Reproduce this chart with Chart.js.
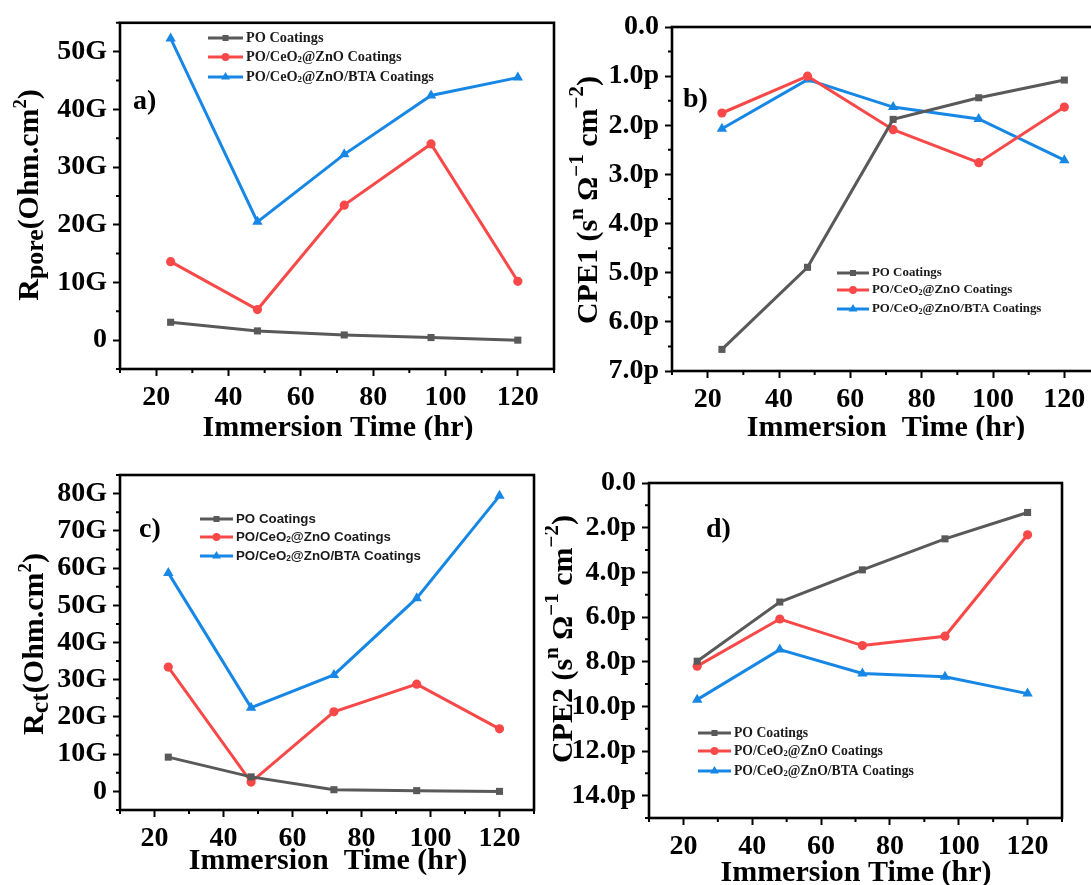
<!DOCTYPE html>
<html lang="en">
<head>
<meta charset="UTF-8" />
<title>Coating EIS parameters vs immersion time</title>
<script src="https://cdn.jsdelivr.net/npm/chart.js"></script>
<style>
  body {
    margin: 0;
    background: #fff;
    width: 1091px;
    height: 885px;
    overflow: hidden;
    position: relative;
  }
  .panel { position: absolute; }
</style>
</head>
<body>
<div class="panel" style="left:0;top:0;width:560px;height:440px"><canvas id="chartA"></canvas></div>
<div class="panel" style="left:560px;top:0;width:560px;height:440px"><canvas id="chartB"></canvas></div>
<div class="panel" style="left:0;top:440px;width:545px;height:445px"><canvas id="chartC"></canvas></div>
<div class="panel" style="left:545px;top:440px;width:546px;height:445px"><canvas id="chartD"></canvas></div>

<script>
// immersion times (hr)
const hours = [24, 48, 72, 96, 120];

// a) pore resistance, G ohm.cm2
const rporePO = [3.1, 1.6, 0.9, 0.45, 0.0];
const rporeCeZn = [13.6, 5.3, 23.4, 34.0, 10.2];
const rporeBTA = [52.3, 20.5, 32.2, 42.4, 45.5];

// b) CPE1, p units
const cpe1PO = [6.56, 4.89, 1.88, 1.44, 1.08];
const cpe1CeZn = [1.75, 1.0, 2.09, 2.76, 1.63];
const cpe1BTA = [2.07, 1.07, 1.63, 1.87, 2.71];

// c) charge transfer resistance, G ohm.cm2
const rctPO = [9.2, 3.9, 0.45, 0.2, 0.0];
const rctCeZn = [33.4, 2.5, 21.4, 28.8, 16.8];
const rctBTA = [58.7, 22.5, 31.3, 51.9, 79.4];

// d) CPE2, p units
const cpe2PO = [7.98, 5.33, 3.89, 2.5, 1.32];
const cpe2CeZn = [8.2, 6.09, 7.28, 6.86, 2.32];
const cpe2BTA = [9.7, 7.46, 8.53, 8.68, 9.43];

// tick values
const xMajor = [20, 40, 60, 80, 100, 120];
const xMinor = [10, 30, 50, 70, 90, 110, 130];
const rporeMajor = [0, 10, 20, 30, 40, 50];
const rporeMinor = [-5, 5, 15, 25, 35, 45, 55];
const cpe1Major = [0, 1, 2, 3, 4, 5, 6, 7];
const cpe1Minor = [0.5, 1.5, 2.5, 3.5, 4.5, 5.5, 6.5];
const rctMajor = [0, 10, 20, 30, 40, 50, 60, 70, 80];
const rctMinor = [-5, 5, 15, 25, 35, 45, 55, 65, 75, 85];
const cpe2Major = [0, 2, 4, 6, 8, 10, 12, 14];
const cpe2Minor = [1, 3, 5, 7, 9, 11, 13, 15];

const seriesNames = [
  [["PO Coatings"]],
  [["PO/CeO"], ["2", 0.22, 0.62], ["@ZnO Coatings"]],
  [["PO/CeO"], ["2", 0.22, 0.62], ["@ZnO/BTA Coatings"]],
];
const seriesColors = ["#595959", "#f84848", "#1787e6"];
const seriesMarkers = ["rect", "circle", "triangle"];
const markerRadius = [5, 4.6, 6];

const SERIF = '"Liberation Serif", "Times New Roman", serif';
const SANS = '"Liberation Sans", Arial, sans-serif';

// text with sub/superscript parts: [text, shift(em), scale]
function drawRich(ctx, parts, x, y, size, family, center) {
  let w = 0;
  parts.forEach((p) => {
    ctx.font = "bold " + size * (p[2] || 1) + "px " + family;
    w += ctx.measureText(p[0]).width;
  });
  let cx = center ? x - w / 2 : x;
  ctx.textAlign = "left";
  ctx.textBaseline = "middle";
  parts.forEach((p) => {
    ctx.font = "bold " + size * (p[2] || 1) + "px " + family;
    ctx.fillText(p[0], cx, y + (p[1] || 0) * size);
    cx += ctx.measureText(p[0]).width;
  });
}

function drawMarker(ctx, style, x, y, r) {
  ctx.beginPath();
  if (style === "rect") {
    const s = r * Math.SQRT1_2;
    ctx.rect(x - s, y - s, 2 * s, 2 * s);
  } else if (style === "circle") {
    ctx.arc(x, y, r, 0, Math.PI * 2);
  } else {
    const h = r * 1.5;
    ctx.moveTo(x, y - r);
    ctx.lineTo(x + h / Math.sqrt(3), y + r / 2);
    ctx.lineTo(x - h / Math.sqrt(3), y + r / 2);
    ctx.closePath();
  }
  ctx.fill();
}

const panelDecor = {
  id: "panelDecor",
  afterDraw(chart, args, o) {
    const { ctx, chartArea: a, scales } = chart;
    ctx.save();
    ctx.fillStyle = "#000";
    ctx.strokeStyle = "#000";

    // minor ticks
    ctx.lineWidth = 2;
    ctx.beginPath();
    o.xMinor.forEach((v) => {
      const px = scales.x.getPixelForValue(v);
      ctx.moveTo(px, a.bottom);
      ctx.lineTo(px, a.bottom + 4);
    });
    o.yMinor.forEach((v) => {
      const py = scales.y.getPixelForValue(v);
      ctx.moveTo(a.left, py);
      ctx.lineTo(a.left - 4, py);
    });
    ctx.stroke();

    // frame
    ctx.lineWidth = 2.6;
    ctx.strokeRect(a.left, a.top, a.right - a.left, a.bottom - a.top);

    // axis titles
    drawRich(ctx, o.xTitle, o.xTitleAt[0] - o.box[0], o.xTitleAt[1] - o.box[1], 30, SERIF, true);
    ctx.save();
    ctx.translate(o.yTitleAt[0] - o.box[0], o.yTitleAt[1] - o.box[1]);
    ctx.rotate(-Math.PI / 2);
    drawRich(ctx, o.yTitle, 0, 0, 30, SERIF, true);
    ctx.restore();

    // panel letter
    drawRich(ctx, [[o.letter]], o.letterAt[0] - o.box[0], o.letterAt[1] - o.box[1], 28, SERIF, false);

    // legend
    const L = o.legend;
    chart.data.datasets.forEach((ds, i) => {
      const y = L.ys[i] - o.box[1];
      const x0 = L.x0 - o.box[0];
      const x1 = L.x1 - o.box[0];
      ctx.strokeStyle = ds.borderColor;
      ctx.fillStyle = ds.borderColor;
      ctx.lineWidth = 3;
      ctx.beginPath();
      ctx.moveTo(x0, y);
      ctx.lineTo(x1, y);
      ctx.stroke();
      drawMarker(ctx, seriesMarkers[i], (x0 + x1) / 2, y, markerRadius[i] * 0.85);
      ctx.fillStyle = "#1a1a1a";
      drawRich(ctx, seriesNames[i], x1 + 3, y, L.size, L.family, false);
    });
    ctx.restore();
  },
};

function makePanel(canvasId, p) {
  const datasets = p.values.map((vals, i) => ({
    label: seriesNames[i].map((s) => s[0]).join(""),
    data: hours.map((h, j) => ({ x: h, y: vals[j] })),
    borderColor: seriesColors[i],
    backgroundColor: seriesColors[i],
    pointBackgroundColor: seriesColors[i],
    pointBorderColor: seriesColors[i],
    pointBorderWidth: 0,
    pointStyle: seriesMarkers[i],
    pointRadius: markerRadius[i],
    borderWidth: 3,
    tension: 0,
    fill: false,
    clip: false,
  }));
  const tickFont = { family: SERIF, size: 28, weight: "bold" };
  const grid = { drawOnChartArea: false, tickLength: 7, tickWidth: 2, tickColor: "#000" };

  new Chart(document.getElementById(canvasId), {
    type: "line",
    data: { datasets },
    options: {
      animation: false,
      responsive: true,
      maintainAspectRatio: false,
      layout: { padding: { left: 0, top: p.area.top - p.box[1], right: p.box[0] + p.box[2] - p.area.right, bottom: 0 } },
      scales: {
        x: {
          type: "linear",
          min: 10,
          max: 130,
          afterBuildTicks: (s) => { s.ticks = xMajor.map((v) => ({ value: v })); },
          afterFit: (s) => { s.height = p.box[1] + p.box[3] - p.area.bottom; },
          grid: grid,
          border: { display: false },
          ticks: { font: tickFont, color: "#000", padding: 5, maxRotation: 0, autoSkip: false },
        },
        y: {
          type: "linear",
          min: p.yMin,
          max: p.yMax,
          reverse: !!p.reverse,
          afterBuildTicks: (s) => { s.ticks = p.yMajor.map((v) => ({ value: v })); },
          afterFit: (s) => { s.width = p.area.left - p.box[0]; },
          grid: grid,
          border: { display: false },
          ticks: { font: tickFont, color: "#000", padding: 6, autoSkip: false, callback: p.yLabel },
        },
      },
      plugins: {
        legend: { display: false },
        tooltip: { enabled: false },
        panelDecor: {
          box: p.box,
          xMinor: xMinor,
          yMinor: p.yMinor,
          xTitle: p.xTitle,
          xTitleAt: p.xTitleAt,
          yTitle: p.yTitle,
          yTitleAt: p.yTitleAt,
          letter: p.letter,
          letterAt: p.letterAt,
          legend: p.legend,
        },
      },
    },
    plugins: [panelDecor],
  });
}

const gLabel = (v) => (v === 0 ? "0" : v + "G");
const pLabel = (v) => (v === 0 ? "0.0" : v.toFixed(1) + "p");

makePanel("chartA", {
  box: [0, 0, 560, 440],
  area: { left: 120, top: 17, right: 556, bottom: 369 },
  values: [rporePO, rporeCeZn, rporeBTA],
  yMin: -5, yMax: 55, yMajor: rporeMajor, yMinor: rporeMinor, yLabel: gLabel,
  xTitle: [["Immersion Time (hr)"]], xTitleAt: [338, 428],
  yTitle: [["R"], ["pore", 0.2, 0.86], ["(Ohm.cm"], ["2", -0.3, 0.62], [")"]], yTitleAt: [30, 195],
  letter: "a)", letterAt: [133, 102],
  legend: { x0: 208, x1: 243, ys: [38, 57, 77], size: 14.3, family: SERIF },
});

makePanel("chartB", {
  box: [560, 0, 560, 440],
  area: { left: 672, top: 27, right: 1100, bottom: 371 },
  values: [cpe1PO, cpe1CeZn, cpe1BTA],
  yMin: 0, yMax: 7, reverse: true, yMajor: cpe1Major, yMinor: cpe1Minor, yLabel: pLabel,
  xTitle: [["Immersion  Time (hr)"]], xTitleAt: [886, 428],
  yTitle: [["CPE1 (s"], ["n", -0.38, 0.7], [" \u03a9"], ["\u22121", -0.38, 0.7], [" cm"], ["\u22122", -0.38, 0.7], [")"]],
  yTitleAt: [589, 200],
  letter: "b)", letterAt: [683, 100],
  legend: { x0: 837, x1: 869, ys: [273, 290, 309], size: 12.9, family: SERIF },
});

makePanel("chartC", {
  box: [0, 440, 545, 445],
  area: { left: 120, top: 475, right: 534, bottom: 810 },
  values: [rctPO, rctCeZn, rctBTA],
  yMin: -5, yMax: 85, yMajor: rctMajor, yMinor: rctMinor, yLabel: gLabel,
  xTitle: [["Immersion  Time (hr)"]], xTitleAt: [328, 861],
  yTitle: [["R"], ["ct", 0.2, 0.86], ["(Ohm.cm"], ["2", -0.3, 0.62], [")"]], yTitleAt: [35, 644],
  letter: "c)", letterAt: [139, 530],
  legend: { x0: 200, x1: 233, ys: [519, 537, 556], size: 13.3, family: SANS },
});

makePanel("chartD", {
  box: [545, 440, 546, 445],
  area: { left: 649, top: 483, right: 1062, bottom: 818 },
  values: [cpe2PO, cpe2CeZn, cpe2BTA],
  yMin: 0, yMax: 15, reverse: true, yMajor: cpe2Major, yMinor: cpe2Minor, yLabel: pLabel,
  xTitle: [["Immersion Time (hr)"]], xTitleAt: [856, 873],
  yTitle: [["CPE2 (s"], ["n", -0.38, 0.7], [" \u03a9"], ["\u22121", -0.38, 0.7], [" cm"], ["\u22122", -0.38, 0.7], [")"]],
  yTitleAt: [564, 639],
  letter: "d)", letterAt: [706, 530],
  legend: { x0: 698, x1: 731, ys: [733, 751, 771], size: 13.7, family: SERIF },
});
</script>
</body>
</html>
